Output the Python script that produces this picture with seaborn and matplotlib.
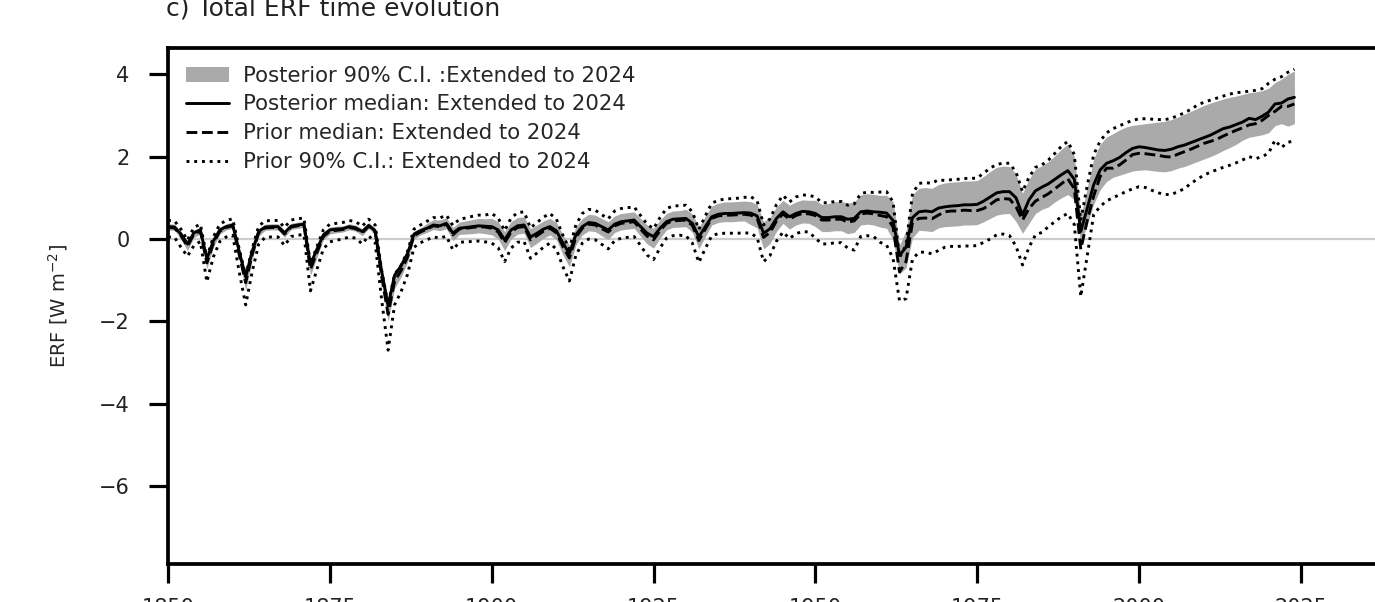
import matplotlib
matplotlib.use("Agg")
import matplotlib.pyplot as plt
import seaborn as sns
import pandas as pd
from matplotlib.lines import Line2D
from matplotlib.patches import Patch

# annual values 1850-2024 (W m-2)
YEARS = list(range(1850, 2025))

post_med = [
    0.30, 0.29, 0.12, -0.12, 0.15, 0.22, -0.48, -0.05, 0.22, 0.30,
    0.34, -0.30, -0.92, -0.30, 0.18, 0.29, 0.30, 0.30, 0.15, 0.31,
    0.34, 0.36, -0.62, -0.25, 0.10, 0.22, 0.24, 0.25, 0.30, 0.27,
    0.18, 0.33, 0.20, -0.78, -1.62, -0.88, -0.65, -0.35, 0.12, 0.20,
    0.26, 0.34, 0.32, 0.38, 0.14, 0.26, 0.28, 0.30, 0.32, 0.31,
    0.30, 0.22, -0.02, 0.22, 0.32, 0.34, 0.05, 0.14, 0.24, 0.30,
    0.20, -0.10, -0.35, 0.10, 0.30, 0.40, 0.38, 0.30, 0.22, 0.36,
    0.42, 0.44, 0.46, 0.30, 0.14, 0.06, 0.26, 0.42, 0.48, 0.49,
    0.50, 0.38, 0.05, 0.30, 0.54, 0.60, 0.62, 0.62, 0.63, 0.64,
    0.63, 0.56, 0.14, 0.25, 0.50, 0.66, 0.54, 0.62, 0.67, 0.66,
    0.62, 0.52, 0.52, 0.54, 0.54, 0.48, 0.50, 0.66, 0.68, 0.66,
    0.65, 0.63, 0.45, -0.40, -0.20, 0.52, 0.66, 0.68, 0.66, 0.75,
    0.78, 0.80, 0.81, 0.83, 0.83, 0.84, 0.92, 1.02, 1.12, 1.15,
    1.15, 1.00, 0.58, 0.95, 1.17, 1.26, 1.34, 1.45, 1.56, 1.66,
    1.45, 0.18, 0.75, 1.32, 1.68, 1.84, 1.90, 1.98, 2.10, 2.20,
    2.24, 2.22, 2.19, 2.16, 2.15, 2.18, 2.24, 2.28, 2.34, 2.40,
    2.46, 2.52, 2.60, 2.68, 2.72, 2.78, 2.84, 2.93, 2.90, 2.98,
    3.08, 3.28, 3.30, 3.40, 3.44,
]

post_lo = [
    0.22, 0.21, 0.00, -0.28, 0.04, 0.12, -0.72, -0.20, 0.12, 0.22,
    0.26, -0.50, -1.25, -0.50, 0.07, 0.21, 0.22, 0.22, 0.04, 0.23,
    0.26, 0.28, -0.89, -0.45, -0.02, 0.12, 0.15, 0.17, 0.22, 0.19,
    0.08, 0.25, 0.10, -1.08, -2.00, -1.20, -0.92, -0.56, 0.00, 0.10,
    0.16, 0.23, 0.20, 0.25, -0.04, 0.11, 0.12, 0.13, 0.15, 0.13,
    0.10, 0.00, -0.28, 0.00, 0.12, 0.14, -0.21, -0.10, 0.02, 0.10,
    -0.02, -0.38, -0.68, -0.15, 0.10, 0.20, 0.18, 0.08, -0.01, 0.16,
    0.22, 0.24, 0.26, 0.07, -0.12, -0.22, 0.02, 0.22, 0.28, 0.29,
    0.30, 0.16, -0.24, 0.06, 0.34, 0.40, 0.42, 0.42, 0.43, 0.44,
    0.35, 0.27, -0.24, -0.11, 0.19, 0.38, 0.24, 0.34, 0.39, 0.38,
    0.30, 0.18, 0.18, 0.20, 0.20, 0.13, 0.16, 0.34, 0.36, 0.34,
    0.29, 0.26, -0.02, -0.85, -0.70, 0.03, 0.21, 0.20, 0.18, 0.27,
    0.30, 0.31, 0.32, 0.34, 0.34, 0.35, 0.42, 0.50, 0.58, 0.61,
    0.62, 0.42, 0.14, 0.38, 0.62, 0.72, 0.78, 0.90, 1.00, 1.08,
    0.95, -0.10, 0.35, 0.85, 1.20, 1.40, 1.50, 1.55, 1.60, 1.65,
    1.67, 1.68, 1.66, 1.64, 1.63, 1.66, 1.72, 1.76, 1.82, 1.88,
    1.94, 2.00, 2.07, 2.15, 2.22, 2.30, 2.40, 2.47, 2.50, 2.53,
    2.58, 2.75, 2.80, 2.74, 2.80,
]

post_hi = [
    0.37, 0.36, 0.19, -0.05, 0.22, 0.29, -0.41, 0.02, 0.29, 0.37,
    0.41, -0.23, -0.85, -0.23, 0.25, 0.36, 0.37, 0.37, 0.22, 0.38,
    0.41, 0.43, -0.55, -0.18, 0.17, 0.29, 0.31, 0.32, 0.37, 0.34,
    0.25, 0.40, 0.27, -0.71, -1.45, -0.81, -0.58, -0.28, 0.19, 0.27,
    0.38, 0.47, 0.46, 0.52, 0.28, 0.41, 0.44, 0.47, 0.50, 0.49,
    0.50, 0.42, 0.18, 0.42, 0.52, 0.54, 0.25, 0.34, 0.44, 0.50,
    0.40, 0.10, -0.15, 0.30, 0.50, 0.60, 0.58, 0.50, 0.42, 0.56,
    0.62, 0.64, 0.66, 0.50, 0.34, 0.26, 0.46, 0.62, 0.68, 0.69,
    0.72, 0.61, 0.29, 0.55, 0.80, 0.87, 0.90, 0.90, 0.91, 0.92,
    0.91, 0.84, 0.42, 0.53, 0.78, 0.94, 0.82, 0.90, 0.95, 0.94,
    0.94, 0.84, 0.86, 0.90, 0.92, 0.87, 0.90, 1.07, 1.10, 1.08,
    1.06, 1.06, 0.91, -0.15, 0.20, 1.08, 1.23, 1.25, 1.23, 1.32,
    1.36, 1.38, 1.39, 1.41, 1.41, 1.42, 1.52, 1.64, 1.74, 1.77,
    1.76, 1.58, 1.11, 1.45, 1.70, 1.78, 1.88, 2.02, 2.18, 2.30,
    2.00, 0.55, 1.25, 1.95, 2.30, 2.48, 2.56, 2.65, 2.72, 2.76,
    2.78, 2.80, 2.82, 2.84, 2.86, 2.90, 2.96, 3.03, 3.10, 3.17,
    3.24, 3.30, 3.35, 3.40, 3.44, 3.47, 3.51, 3.55, 3.57, 3.60,
    3.66, 3.80, 3.88, 4.00, 4.08,
]

prior_med = [
    0.28, 0.27, 0.08, -0.18, 0.12, 0.19, -0.58, -0.11, 0.19, 0.28,
    0.32, -0.38, -1.06, -0.38, 0.15, 0.27, 0.28, 0.28, 0.12, 0.29,
    0.32, 0.34, -0.74, -0.33, 0.06, 0.19, 0.21, 0.23, 0.28, 0.25,
    0.15, 0.31, 0.17, -0.91, -1.83, -1.02, -0.77, -0.44, 0.08, 0.17,
    0.24, 0.32, 0.30, 0.36, 0.10, 0.24, 0.26, 0.28, 0.30, 0.29,
    0.26, 0.17, -0.09, 0.17, 0.28, 0.30, -0.02, 0.08, 0.19, 0.26,
    0.15, -0.18, -0.46, 0.04, 0.26, 0.36, 0.34, 0.25, 0.17, 0.32,
    0.38, 0.40, 0.42, 0.24, 0.07, -0.02, 0.20, 0.38, 0.44, 0.45,
    0.46, 0.33, -0.04, 0.24, 0.50, 0.56, 0.58, 0.58, 0.59, 0.60,
    0.58, 0.50, 0.04, 0.16, 0.44, 0.61, 0.48, 0.57, 0.62, 0.61,
    0.57, 0.46, 0.46, 0.48, 0.48, 0.41, 0.44, 0.61, 0.63, 0.61,
    0.57, 0.54, 0.29, -0.80, -0.55, 0.40, 0.50, 0.51, 0.49, 0.58,
    0.66, 0.68, 0.68, 0.70, 0.69, 0.69, 0.74, 0.84, 0.95, 0.98,
    0.97, 0.78, 0.46, 0.74, 0.92, 1.01, 1.10, 1.22, 1.34, 1.46,
    1.22, -0.25, 0.45, 1.05, 1.52, 1.72, 1.72, 1.80, 1.92, 2.05,
    2.08, 2.07, 2.05, 2.03, 2.00, 1.99, 2.06, 2.12, 2.18, 2.25,
    2.32, 2.37, 2.42, 2.50, 2.57, 2.64, 2.70, 2.77, 2.80, 2.88,
    3.00, 3.10, 3.22, 3.22, 3.28,
]

prior_lo = [
    0.05, 0.04, -0.20, -0.42, -0.16, -0.06, -1.04, -0.44, -0.06, 0.05,
    0.09, -0.80, -1.60, -0.80, -0.13, 0.04, 0.05, 0.05, -0.16, 0.06,
    0.09, 0.11, -1.26, -0.74, -0.24, -0.07, -0.03, 0.00, 0.05, 0.02,
    -0.12, 0.08, -0.09, -1.47, -2.70, -1.60, -1.28, -0.86, -0.20, -0.09,
    -0.02, 0.05, 0.02, 0.07, -0.26, -0.08, -0.07, -0.06, -0.05, -0.07,
    -0.10, -0.21, -0.55, -0.22, -0.08, -0.06, -0.47, -0.34, -0.20, -0.10,
    -0.25, -0.67, -1.02, -0.40, -0.10, 0.00, -0.02, -0.13, -0.24, -0.04,
    0.02, 0.04, 0.06, -0.16, -0.39, -0.50, -0.22, 0.02, 0.08, 0.09,
    0.08, -0.10, -0.57, -0.23, 0.08, 0.13, 0.14, 0.14, 0.14, 0.15,
    0.14, 0.04, -0.55, -0.40, -0.05, 0.17, 0.01, 0.13, 0.18, 0.17,
    0.02, -0.12, -0.12, -0.09, -0.09, -0.22, -0.27, 0.06, 0.08, 0.06,
    -0.08, -0.15, -0.47, -1.50, -1.45, -0.49, -0.32, -0.32, -0.36, -0.28,
    -0.20, -0.18, -0.18, -0.17, -0.17, -0.16, -0.08, 0.00, 0.10, 0.12,
    0.08, -0.18, -0.63, -0.20, 0.10, 0.16, 0.30, 0.42, 0.54, 0.62,
    0.35, -1.40, -0.40, 0.60, 0.79, 0.93, 1.00, 1.08, 1.15, 1.22,
    1.27, 1.25, 1.18, 1.12, 1.08, 1.08, 1.15, 1.22, 1.35, 1.45,
    1.55, 1.62, 1.68, 1.74, 1.79, 1.85, 1.92, 2.00, 1.95, 2.00,
    2.08, 2.40, 2.22, 2.35, 2.38,
]

prior_hi = [
    0.45, 0.44, 0.24, -0.03, 0.28, 0.36, -0.45, 0.05, 0.36, 0.45,
    0.49, -0.24, -0.89, -0.24, 0.31, 0.44, 0.45, 0.45, 0.28, 0.46,
    0.49, 0.51, -0.60, -0.19, 0.22, 0.36, 0.38, 0.40, 0.45, 0.42,
    0.31, 0.48, 0.34, -0.76, -1.60, -0.86, -0.64, -0.30, 0.24, 0.34,
    0.43, 0.52, 0.51, 0.58, 0.33, 0.48, 0.51, 0.55, 0.58, 0.58,
    0.62, 0.51, 0.20, 0.51, 0.64, 0.66, 0.27, 0.40, 0.53, 0.62,
    0.48, 0.09, -0.24, 0.34, 0.62, 0.72, 0.70, 0.59, 0.49, 0.68,
    0.74, 0.76, 0.78, 0.57, 0.36, 0.25, 0.52, 0.74, 0.80, 0.81,
    0.82, 0.66, 0.23, 0.56, 0.87, 0.94, 0.97, 0.98, 0.99, 1.01,
    1.03, 0.93, 0.34, 0.49, 0.84, 1.06, 0.90, 1.02, 1.07, 1.06,
    1.02, 0.88, 0.88, 0.91, 0.91, 0.82, 0.85, 1.10, 1.14, 1.13,
    1.14, 1.15, 0.90, -0.45, -0.15, 1.10, 1.35, 1.37, 1.35, 1.44,
    1.42, 1.44, 1.45, 1.47, 1.47, 1.48, 1.60, 1.72, 1.81, 1.84,
    1.84, 1.62, 1.15, 1.50, 1.74, 1.80, 1.92, 2.08, 2.25, 2.37,
    2.05, 0.45, 1.30, 2.05, 2.38, 2.58, 2.68, 2.75, 2.82, 2.88,
    2.92, 2.92, 2.91, 2.90, 2.90, 2.93, 3.00, 3.06, 3.15, 3.25,
    3.32, 3.37, 3.42, 3.47, 3.52, 3.55, 3.57, 3.59, 3.61, 3.65,
    3.78, 3.88, 3.94, 4.05, 4.12,
]

X_TICKS = [1850, 1875, 1900, 1925, 1950, 1975, 2000, 2025]
Y_TICKS = [-6, -4, -2, 0, 2, 4]
LEGEND_LABELS = [
    "Posterior 90% C.I. :Extended to 2024",
    "Posterior median: Extended to 2024",
    "Prior median: Extended to 2024",
    "Prior 90% C.I.: Extended to 2024",
]

df = pd.DataFrame({
    "year": YEARS,
    "post_med": post_med,
    "post_lo": post_lo,
    "post_hi": post_hi,
    "prior_med": prior_med,
    "prior_lo": prior_lo,
    "prior_hi": prior_hi,
})

sns.set_style("ticks")
plt.rcParams["font.family"] = ["DejaVu Sans"]

band_color = "#aaaaaa"
lw = 2.1

fig = plt.figure(figsize=(13.75, 6.02), dpi=100)
# the panel is cropped on the right and bottom, so the axes run past the figure edge
ax = fig.add_axes([168 / 1375, 38.5 / 602, 1230 / 1375, 516 / 602])

ax.axhline(0, color="#cccccc", lw=1.6, zorder=0.5)
ax.fill_between(df["year"], df["post_lo"], df["post_hi"], color=band_color, lw=0, zorder=1)

sns.lineplot(data=df, x="year", y="post_med", color="k", lw=lw, ax=ax, legend=False, zorder=3)
sns.lineplot(data=df, x="year", y="prior_med", color="k", lw=lw, linestyle="--",
             ax=ax, legend=False, zorder=3)
sns.lineplot(data=df, x="year", y="prior_lo", color="k", lw=lw, linestyle=":",
             ax=ax, legend=False, zorder=3)
sns.lineplot(data=df, x="year", y="prior_hi", color="k", lw=lw, linestyle=":",
             ax=ax, legend=False, zorder=3)

ax.set_xlim(1850, 2040)
ax.set_ylim(-7.88, 4.65)
ax.set_xticks(X_TICKS)
ax.set_yticks(Y_TICKS)
ax.set_xlabel("")
ax.set_ylabel("ERF [W m$^{-2}$]", fontsize=14)
ax.yaxis.set_label_coords(-0.0797, 0.5)

for side in ["left", "top", "bottom"]:
    ax.spines[side].set_linewidth(2.7)
    ax.spines[side].set_color("black")
ax.spines["right"].set_visible(False)

ax.tick_params(axis="both", length=13.7, width=2.3, color="black",
               labelsize=15, labelcolor="#222222")
ax.tick_params(axis="y", pad=14)
ax.tick_params(axis="x", pad=11.5)

handles = [
    Patch(facecolor=band_color, edgecolor="none"),
    Line2D([], [], color="k", lw=lw),
    Line2D([], [], color="k", lw=lw, linestyle="--"),
    Line2D([], [], color="k", lw=lw, linestyle=":"),
]
ax.legend(handles, LEGEND_LABELS, loc="upper left", frameon=False, fontsize=15.3,
          labelspacing=0.42, handlelength=2.0, handletextpad=0.7,
          borderaxespad=0.5, borderpad=0.35)

fig.text(166 / 1375, 1 - 15.5 / 602, "c) Total ERF time evolution",
         fontsize=18, ha="left", va="baseline", color="#222222")

fig.savefig("out.png", dpi=100)
